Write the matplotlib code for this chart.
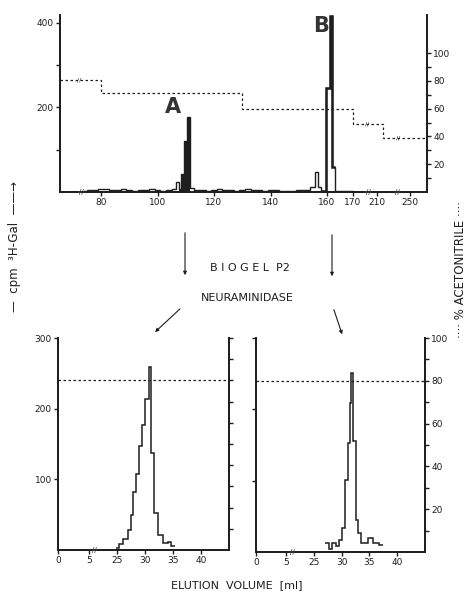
import numpy as np
import matplotlib
matplotlib.use('Agg')
import matplotlib.pyplot as plt
import matplotlib.transforms as mtransforms
from matplotlib.patches import FancyArrowPatch

# top run: step edges (elution volume) and cpm per step
top_edges = [73, 75, 77, 79, 81, 83, 85, 87, 89, 91, 93, 95, 97, 99, 101, 103, 105,
             106.5, 107.5, 108.3, 109.4, 110.6, 111.6, 113,
             115, 117, 119, 121, 123, 125, 127, 129, 131, 133, 135, 137, 139, 141,
             143, 145, 147, 149, 151, 153,
             154, 155.8, 156.8, 157.8, 159.6, 161.1, 162.1, 163, 165, 167, 170]
top_cpm = [3, 4, 5, 6, 7, 5, 4, 6, 5, 3, 4, 5, 6, 4, 3, 5, 8,
           24, 6, 42, 120, 178, 10, 5,
           4, 3, 5, 6, 4, 5, 3, 4, 6, 5, 4, 3, 4, 5, 3, 2, 3, 4, 5, 4,
           12, 47, 12, 2, 245, 415, 60, 3, 2, 2]
peak_a_edges = [107.5, 108.3, 109.4, 110.6, 111.6]
peak_a_cpm = [6, 42, 120, 178]

# acetonitrile gradient (%)
acn_edges = [65, 80, 130, 170, 217, 270]
acn_pct = [81, 71, 60, 49, 39]

top_ticks = [80, 100, 120, 140, 160, 170, 210, 250]

# Biogel P2 after neuraminidase
a_edges = [24.35, 25.5, 26.1, 27.0, 27.6, 27.9, 28.5, 28.95, 29.5, 30.1, 30.7,
           31.1, 31.7, 32.3, 33.2, 34.1, 34.7, 35.3]
a_cpm = [3, 9, 16, 28, 49, 82, 108, 147, 177, 213, 259, 137, 52, 21, 10, 12, 5]
b_edges = [26.98, 27.7, 28.3, 28.9, 29.5, 30.0, 30.6, 31.05, 31.4, 31.7, 32.1,
           32.5, 32.9, 33.5, 34.8, 35.65, 36.8, 37.4]
b_cpm = [12, 4, 13, 8, 17, 34, 101, 153, 209, 251, 155, 45, 27, 12, 20, 12, 10]
bottom_acn = 80
bottom_ticks = [0, 5, 25, 30, 35, 40]

ink = '#1e1e1e'
fs = 6.5

# broken axes -> piecewise linear scales
top_kx = [0, 65, 80, 160, 170, 210, 250, 270, 1000]
top_ku = [-178, 0, 41, 267, 293, 317, 350, 367, 988]
bot_kx = [-100, 0, 5, 25, 45, 200]
bot_ku = [-620, 0, 31, 59, 172, 1048]


def make_scale(kx, ku):
    fwd = lambda v: np.interp(v, kx, ku)
    inv = lambda u: np.interp(u, ku, kx)
    return fwd, inv


def style_axis(ax):
    ax.spines['top'].set_visible(False)
    for s in ax.spines.values():
        s.set_linewidth(1.3)
        s.set_color(ink)
    ax.tick_params(labelsize=fs, width=1, length=3, colors=ink, pad=1.5)
    ax.tick_params(which='minor', width=1, length=3, colors=ink)


def break_mark(ax, x, y=0):
    trans = mtransforms.blended_transform_factory(ax.transData, ax.transAxes)
    ax.text(x, y, '//', transform=trans, fontsize=5, ha='center', va='center',
            color=ink, bbox=dict(fc='white', ec='none', pad=0.3))


fig = plt.figure(figsize=(4.72, 5.93), dpi=100)

# ---- top panel ----
ax = fig.add_axes([60 / 472, 1 - 192 / 593, 367 / 472, 177 / 593])
ax.set_xscale('function', functions=make_scale(top_kx, top_ku))
ax.set_xlim(65, 270)
ax.set_ylim(0, 418)
ax.stairs(top_cpm, top_edges, color=ink, lw=1.0, baseline=None)
ax.stairs(peak_a_cpm, peak_a_edges, fill=True, color=ink)
ax.stairs(top_cpm[47:51], top_edges[47:52], color=ink, lw=1.8, baseline=None)
ax.plot([65, 73], [0, 0], color=ink, lw=1.0)
ax.plot([170, 270], [0, 0], color=ink, lw=1.0)
ax.set_xticks(top_ticks)
ax.set_xticklabels([str(t) for t in top_ticks])
ax.set_yticks([200, 400])
ax.set_yticks([100, 300], minor=True)
style_axis(ax)
for bx in [72.7, 195, 235]:
    break_mark(ax, bx)
ax.text(105.5, 176, 'A', fontsize=15, fontweight='bold', ha='center', va='bottom', color='#333333')
ax.text(158, 393, 'B', fontsize=15, fontweight='bold', ha='center', va='center', color='#333333')

axr = ax.twinx()
axr.set_ylim(0, 127.5)
axr.stairs(acn_pct, acn_edges, color=ink, lw=0.9, ls=(0, (2, 2)), baseline=None)
axr.set_yticks([20, 40, 60, 80, 100])
axr.set_yticks([10, 30, 50, 70, 90], minor=True)
style_axis(axr)
for bx, by in [(72, 81), (193, 49), (235, 39)]:
    axr.text(bx, by, '//', fontsize=4.5, ha='center', va='center', color=ink)

# ---- bottom panels ----
panels = [([58 / 472, 1 - 550 / 593, 171 / 472, 212 / 593], a_edges, a_cpm, True, False),
          ([256 / 472, 1 - 552 / 593, 169 / 472, 214 / 593], b_edges, b_cpm, False, True)]
for rect, edges, cpm, left_lab, right_lab in panels:
    bx = fig.add_axes(rect)
    bx.set_xscale('function', functions=make_scale(bot_kx, bot_ku))
    bx.set_xlim(0, 45)
    bx.set_ylim(0, 300)
    bx.stairs(cpm, edges, color=ink, lw=1.1, baseline=None)
    bx.set_xticks(bottom_ticks)
    bx.set_xticklabels([str(t) for t in bottom_ticks])
    bx.set_yticks([100, 200, 300])
    if not left_lab:
        bx.set_yticklabels([])
    style_axis(bx)
    break_mark(bx, 9)
    br = bx.twinx()
    br.set_ylim(0, 100)
    br.axhline(bottom_acn, color=ink, lw=0.9, ls=(0, (2, 2)))
    br.set_yticks([20, 40, 60, 80, 100])
    br.set_yticks([10, 30, 50, 70, 90], minor=True)
    if not right_lab:
        br.set_yticklabels([])
    style_axis(br)

# ---- annotations ----
fig.text(250 / 472, 1 - 268 / 593, 'B I O G E L  P2', fontsize=8, ha='center', va='center', color=ink)
fig.text(247 / 472, 1 - 298 / 593, 'NEURAMINIDASE', fontsize=8, ha='center', va='center', color=ink)
arrows = [((185, 230), (185, 278)), ((332, 232), (332, 279)),
          ((182, 307), (153, 334)), ((333, 307), (343, 337))]
for (x0, y0), (x1, y1) in arrows:
    fig.add_artist(FancyArrowPatch(
        (x0 / 472, 1 - y0 / 593), (x1 / 472, 1 - y1 / 593),
        transform=fig.transFigure, arrowstyle='-|>', mutation_scale=5,
        color=ink, lw=0.8))

fig.text(237 / 472, 1 - 585 / 593, 'ELUTION  VOLUME  [ml]', fontsize=8, ha='center', va='center', color=ink)
fig.text(15 / 472, 1 - 246 / 593, '—  cpm  ³H-Gal  ——→', fontsize=8.5, rotation=90,
         ha='center', va='center', color=ink)
fig.text(461 / 472, 1 - 270 / 593, '···· % ACETONITRILE ····', fontsize=8.5, rotation=90,
         ha='center', va='center', color=ink)

fig.savefig('out.png', dpi=100, facecolor='white')
